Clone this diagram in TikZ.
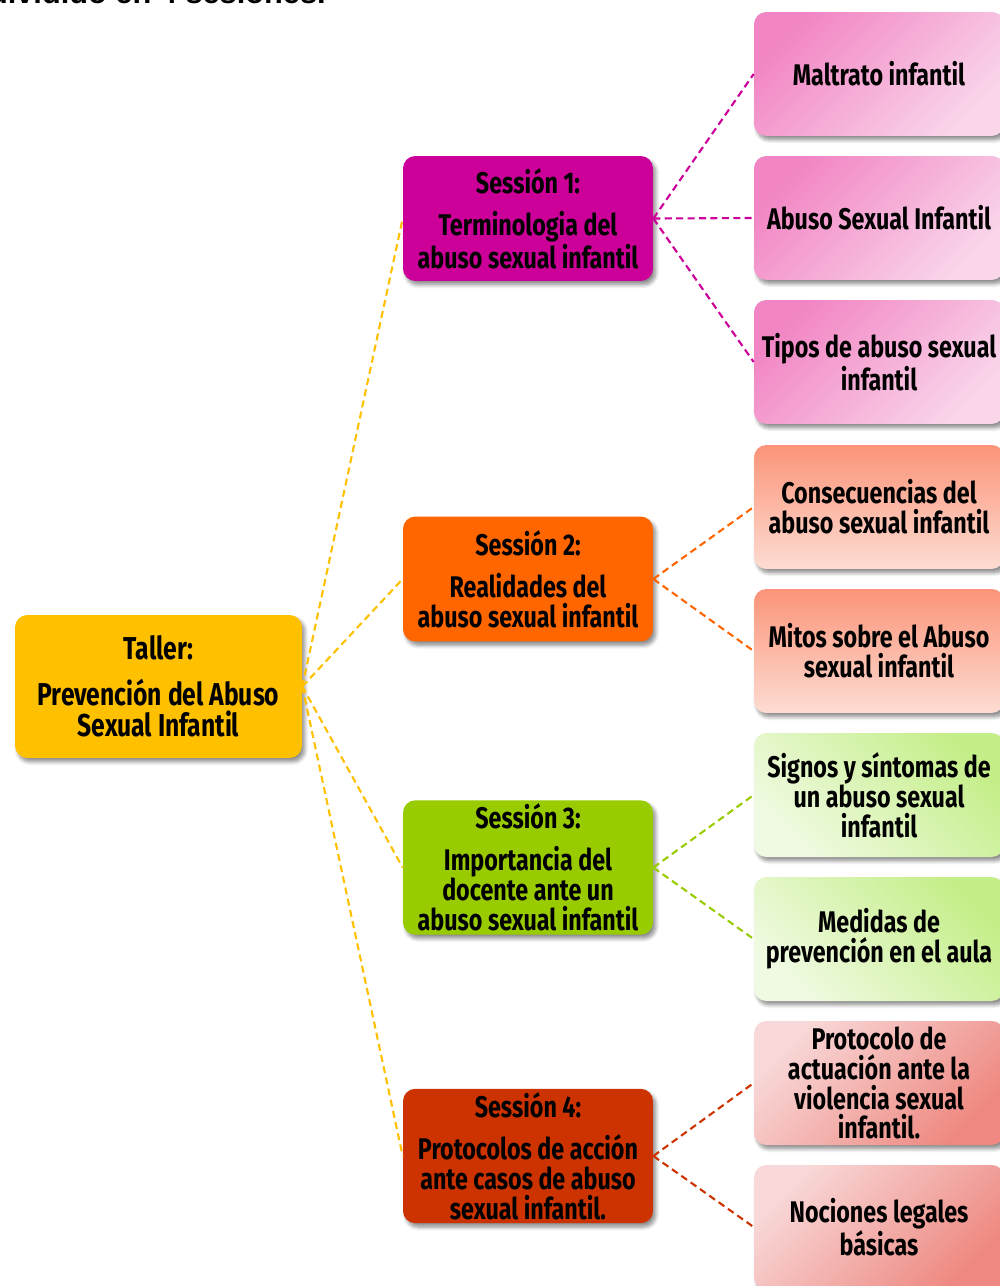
\documentclass[tikz,border=0pt]{standalone}
\usepackage{fontspec}
\setmainfont{Fira Sans}[FakeStretch=0.78]
\newfontfamily\toptitlefont{Liberation Sans}
\usetikzlibrary{shadows.blur}
\definecolor{cTaller}{HTML}{FFC000}
\definecolor{cSone}{HTML}{CC0099}
\definecolor{cStwo}{HTML}{FF6600}
\definecolor{cSthree}{HTML}{99CC00}
\definecolor{cSfour}{HTML}{CC3300}
\definecolor{pinkA}{HTML}{F285C4}
\definecolor{pinkB}{HTML}{F9D6EA}
\definecolor{salA}{HTML}{FB9479}
\definecolor{salB}{HTML}{FDDCD2}
\definecolor{grnA}{HTML}{C4EE88}
\definecolor{grnB}{HTML}{F0FAE2}
\definecolor{redA}{HTML}{F8D8D8}
\definecolor{redB}{HTML}{EE8880}
\tikzset{
  base/.style={rounded corners=7pt, align=center, inner sep=2pt,
    font=\bfseries\fontsize{17}{17}\selectfont, text=black,
    blur shadow={shadow xshift=1.6pt, shadow yshift=-2.2pt, shadow blur steps=6, shadow opacity=45}},
  mainbox/.style={base, fill=cTaller, minimum width=5.74cm, minimum height=2.86cm, font=\bfseries\fontsize{18}{18}\selectfont},
  sessbox/.style={base, minimum width=5cm, minimum height=2.5cm},
  leafbox/.style={base, minimum width=5cm, minimum height=2.48cm},
  pinkleaf/.style={leafbox, top color=pinkA, bottom color=pinkB, shading angle=45},
  salleaf/.style={leafbox, top color=salA, bottom color=salB},
  grnleaf/.style={leafbox, top color=grnA, bottom color=grnB, shading angle=-45},
  redleaf/.style={leafbox, top color=redA, bottom color=redB, shading angle=45},
  conn/.style={dashed, dash pattern=on 4pt off 2.5pt, line width=1.2pt},
}
\begin{document}
\begin{tikzpicture}[x=0.02cm, y=-0.02cm]
\useasboundingbox (0,0) rectangle (1000,1286);
\node[anchor=base east, inner sep=0pt, font=\toptitlefont\bfseries\fontsize{17.5}{17.5}\selectfont] (toptitle) at (326,3) {dividido en 4 sesiones.};

\node[mainbox] (taller) at (158.5,686.5) {Taller:\\[8pt]Prevención del Abuso\\Sexual Infantil};

\node[sessbox, fill=cSone] (s1) at (528,218.5) {Sessión 1:\\[7pt]Terminologia del\\abuso sexual infantil};
\node[sessbox, fill=cStwo] (s2) at (528,579) {Sessión 2:\\[7pt]Realidades del\\abuso sexual infantil};
\node[sessbox, fill=cSthree] (s3) at (528,867.5) {Sessión 3:\\[7pt]Importancia del\\docente ante un\\abuso sexual infantil};
\node[sessbox, fill=cSfour] (s4) at (528,1156) {Sessión 4:\\[7pt]Protocolos de acción\\ante casos de abuso\\sexual infantil.};

\node[pinkleaf] (l1) at (879,74) {Maltrato infantil};
\node[pinkleaf] (l2) at (879,218) {Abuso Sexual Infantil};
\node[pinkleaf] (l3) at (879,362) {Tipos de abuso sexual\\infantil};
\node[salleaf] (l4) at (879,507) {Consecuencias del\\abuso sexual infantil};
\node[salleaf] (l5) at (879,651) {Mitos sobre el Abuso\\sexual infantil};
\node[grnleaf] (l6) at (879,795) {Signos y síntomas de\\un abuso sexual\\infantil};
\node[grnleaf] (l7) at (879,939) {Medidas de\\prevención en el aula};
\node[redleaf] (l8) at (879,1083) {Protocolo de\\actuación ante la\\violencia sexual\\infantil.};
\node[redleaf] (l9) at (879,1227) {Nociones legales\\básicas};

\foreach \s in {s1,s2,s3,s4}
  \draw[conn, draw=cTaller] (taller.east) -- (\s.west);
\foreach \l in {l1,l2,l3}
  \draw[conn, draw=cSone] (s1.east) -- (\l.west);
\foreach \l in {l4,l5}
  \draw[conn, draw=cStwo] (s2.east) -- (\l.west);
\foreach \l in {l6,l7}
  \draw[conn, draw=cSthree] (s3.east) -- (\l.west);
\foreach \l in {l8,l9}
  \draw[conn, draw=cSfour] (s4.east) -- (\l.west);
\end{tikzpicture}
\end{document}
